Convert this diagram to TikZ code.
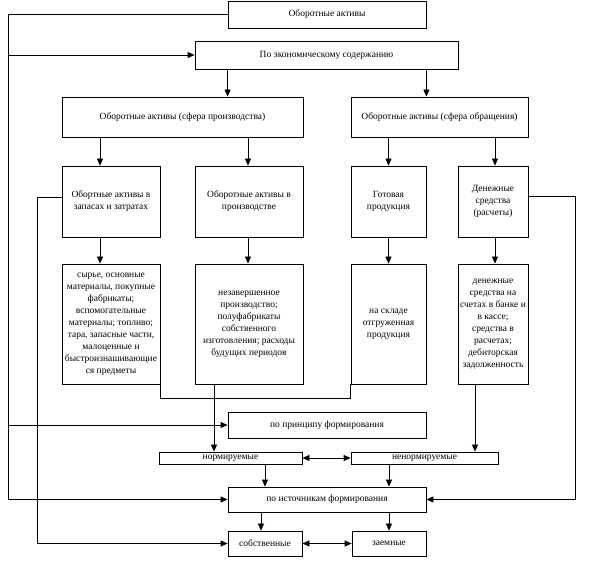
\documentclass[tikz,border=0pt]{standalone}
\usepackage{fontspec}
\setmainfont{Liberation Serif}
\usetikzlibrary{arrows.meta,calc}
\begin{document}
\begin{tikzpicture}[x=1pt,y=-1pt,
  box/.style={draw,line width=0.8pt,inner sep=0pt,align=center,font=\fontsize{9.5}{12}\selectfont},
  arr/.style={line width=0.8pt,-{Triangle[length=7pt,width=6pt]}},
  ln/.style={line width=0.8pt},
  darr/.style={line width=0.8pt,{Triangle[length=7pt,width=6pt]}-{Triangle[length=7pt,width=6pt]}}]
\useasboundingbox[fill=white] (0,0) rectangle (598,561);
% boxes
\node[box,minimum width=198pt,minimum height=27pt] (top) at (327,14.5) {Оборотные активы};
\node[box,minimum width=263pt,minimum height=28pt] (econ) at (326.5,55) {По экономическому содержанию};
\node[box,minimum width=241pt,minimum height=40pt] (prod) at (182.5,117) {Оборотные активы (сфера производства)};
\node[box,minimum width=177pt,minimum height=40pt] (circ) at (439.5,117) {Оборотные активы (сфера обращения)};
\node[box,minimum width=98pt,minimum height=71pt] (A) at (111,201.5) {Обортные активы в\\запасах и затратах};
\node[box,minimum width=108pt,minimum height=71pt] (B) at (249,201.5) {Оборотные активы в\\производстве};
\node[box,minimum width=75pt,minimum height=71pt] (C) at (388.5,201.5) {Готовая\\продукция};
\node[box,minimum width=70pt,minimum height=71pt] (D) at (493,201.5) {Денежные\\средства\\(расчеты)};
\node[box,minimum width=98pt,minimum height=120pt] (Ap) at (111,324) {сырье, основные\\материалы, покупные\\фабрикаты;\\вспомогательные\\материалы; топливо;\\тара, запасные части,\\малоценные и\\быстроизнашивающие\\ся предметы};
\node[box,minimum width=108pt,minimum height=120pt] (Bp) at (249,324) {незавершенное\\производство;\\полуфабрикаты\\собственного\\изготовления; расходы\\будущих периодов};
\node[box,minimum width=75pt,minimum height=120pt] (Cp) at (388.5,324) {на складе\\отгруженная\\продукция};
\node[box,minimum width=70pt,minimum height=120pt] (Dp) at (493,324) {денежные\\средства на\\счетах в банке и\\в кассе;\\средства в\\расчетах;\\дебиторская\\задолженность};
\node[box,minimum width=198pt,minimum height=26pt] (princ) at (327,425) {по принципу формирования};
\node[box,minimum width=143pt,minimum height=12pt] (norm) at (230.5,458) {нормируемые};
\node[box,minimum width=147pt,minimum height=12pt] (nenorm) at (424.5,458) {ненормируемые};
\node[box,minimum width=198pt,minimum height=25pt] (ist) at (327,499.5) {по источникам формирования};
\node[box,minimum width=74pt,minimum height=25pt] (sobst) at (265,543.5) {собственные};
\node[box,minimum width=74pt,minimum height=25pt] (zaem) at (389,543.5) {заемные};
\coordinate (L) at (8,0);
\coordinate (L2) at (37,0);
\coordinate (R) at (575,0);
\coordinate (Aw) at ([yshift=4pt]A.west);
\coordinate (De) at ([yshift=5pt]D.east);
% vertical arrows
\draw[arr] (econ.south -| top.west) -- (prod.north -| top.west);
\draw[arr] (econ.south -| top.east) -- (circ.north -| top.east);
\draw[arr] ([xshift=-11pt]prod.south -| A.north) -- ([xshift=-11pt]A.north);
\draw[arr] ([xshift=-1pt]prod.south -| B.north) -- ([xshift=-1pt]B.north);
\draw[arr] (circ.south -| C.north) -- (C.north);
\draw[arr] ([xshift=2pt]circ.south -| D.north) -- ([xshift=2pt]D.north);
\draw[arr] ([xshift=-11pt]A.south) -- ([xshift=-11pt]Ap.north);
\draw[arr] ([xshift=-1pt]B.south) -- ([xshift=-1pt]Bp.north);
\draw[arr] (C.south) -- (Cp.north);
\draw[arr] ([xshift=2pt]D.south) -- ([xshift=2pt]Dp.north);
% bracket
\draw[ln] (Ap.south east) -- ++(0,14) -| (Cp.south west);
\draw[arr] ([xshift=-35pt]Bp.south) -- ([xshift=-35pt]Bp.south |- norm.north);
\draw[arr] ([xshift=-18pt]Dp.south) -- ([xshift=-18pt]Dp.south |- nenorm.north);
\draw[darr] (norm.east) -- (nenorm.west);
\draw[arr] (norm.south -| sobst.north) -- (ist.north -| sobst.north);
\draw[arr] (nenorm.south -| zaem.north) -- (ist.north -| zaem.north);
\draw[arr] ([xshift=-4pt]ist.south -| sobst.north) -- ([xshift=-4pt]sobst.north);
\draw[arr] (ist.south -| zaem.north) -- (zaem.north);
\draw[darr] (sobst.east) -- (zaem.west);
% left outer line
\draw[arr] (top.west) -- (L |- top.west) -- (L |- ist.west) -- (ist.west);
\draw[arr] (L |- econ.west) -- (econ.west);
\draw[arr] (L |- princ.west) -- (princ.west);
% inner left line
\draw[arr] (Aw) -- (L2 |- Aw) -- (L2 |- sobst.west) -- (sobst.west);
% right line
\draw[arr] (De) -- (R |- De) -- (R |- ist.east) -- (ist.east);
\end{tikzpicture}
\end{document}
